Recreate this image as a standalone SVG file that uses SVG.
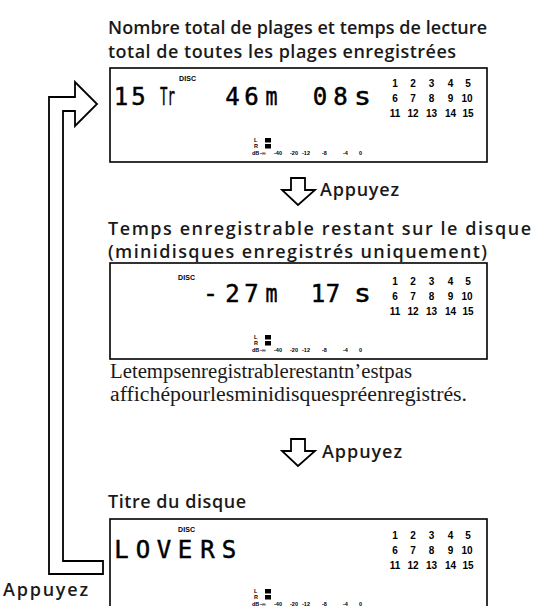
<svg xmlns="http://www.w3.org/2000/svg" width="534" height="606" viewBox="0 0 534 606">
<style>
.ttl{font-family:"Open Sans","Noto Sans","DejaVu Sans",sans-serif;font-weight:600;font-size:18px;fill:#1a1a1a}
.box{fill:#fff;stroke:#000;stroke-width:1.6}
.lcd{font-family:"DejaVu Sans Mono","Liberation Mono",monospace;font-size:24px;fill:#000;stroke:#000;stroke-width:0.5;text-anchor:middle}
.disc{font-family:"Liberation Sans","DejaVu Sans",sans-serif;font-weight:bold;font-size:7px;fill:#000}
.trk{font-family:"Liberation Sans","DejaVu Sans",sans-serif;font-weight:bold;font-size:10px;fill:#000;text-anchor:middle}
.mt{font-family:"Liberation Sans","DejaVu Sans",sans-serif;font-weight:bold;font-size:5.5px;fill:#000}
.note{font-family:"Liberation Serif","DejaVu Serif",serif;font-size:20px;fill:#1a1a1a}
.arr{fill:#fff;stroke:#000;stroke-width:1.8;stroke-linejoin:miter}
</style>
<defs>
<g id="tracks">
<text class="trk" y="0"><tspan x="395">1</tspan><tspan x="413">2</tspan><tspan x="431.5">3</tspan><tspan x="450.5">4</tspan><tspan x="468">5</tspan></text>
<text class="trk" y="15"><tspan x="395">6</tspan><tspan x="413">7</tspan><tspan x="431.5">8</tspan><tspan x="450.5">9</tspan><tspan x="467">10</tspan></text>
<text class="trk" y="30"><tspan x="395">11</tspan><tspan x="413">12</tspan><tspan x="431.5">13</tspan><tspan x="450.5">14</tspan><tspan x="468">15</tspan></text>
</g>
<g id="meter">
<text class="mt" x="254" y="0">L</text>
<text class="mt" x="254" y="6.5">R</text>
<text class="mt" x="252" y="13">dB</text>
<rect x="265" y="-3.5" width="6" height="4.5" fill="#000"/>
<rect x="265" y="2.5" width="6" height="4.5" fill="#000"/>
<text class="mt" y="13"><tspan x="260">-∞</tspan><tspan x="274">-40</tspan><tspan x="290">-20</tspan><tspan x="302">-12</tspan><tspan x="322">-8</tspan><tspan x="343">-4</tspan><tspan x="359">0</tspan></text>
</g>
</defs>

<g id="title1">
<text class="ttl" x="108" y="34" textLength="379">Nombre total de plages et temps de lecture</text>
<text class="ttl" x="108" y="57.5" textLength="348">total de toutes les plages enregistrées</text>
</g>

<g id="display1">
<rect class="box" x="110" y="68" width="377" height="94"/>
<text class="disc" x="179" y="81" textLength="17">DISC</text>
<text class="lcd" x="121 138.5" y="105">15</text>
<text class="lcd" x="167.5" y="105" font-size="17" textLength="15" lengthAdjust="spacingAndGlyphs">Tr</text>
<text class="lcd" x="232.5 251.5" y="105">46</text>
<text class="lcd" x="271.5" y="105" textLength="12" lengthAdjust="spacingAndGlyphs">m</text>
<text class="lcd" x="320 340.5" y="105">08</text>
<text class="lcd" x="362.5" y="105" textLength="17" lengthAdjust="spacingAndGlyphs">s</text>
<use href="#tracks" y="87"/>
<use href="#meter" y="141.5"/>
</g>

<g id="title2">
<text class="ttl" x="108" y="235" textLength="423">Temps enregistrable restant sur le disque</text>
<text class="ttl" x="108" y="258" textLength="379">(minidisques enregistrés uniquement)</text>
</g>

<g id="display2">
<rect class="box" x="110" y="263" width="377" height="96"/>
<text class="disc" x="178" y="280" textLength="17">DISC</text>
<text class="lcd" x="210.5" y="302" textLength="15" lengthAdjust="spacingAndGlyphs">-</text>
<text class="lcd" x="232.5 251.5" y="302">27</text>
<text class="lcd" x="271.5" y="302" textLength="12" lengthAdjust="spacingAndGlyphs">m</text>
<text class="lcd" x="318 333" y="302">17</text>
<text class="lcd" x="362.5" y="302" textLength="17" lengthAdjust="spacingAndGlyphs">s</text>
<use href="#tracks" y="285"/>
<use href="#meter" y="338.5"/>
</g>

<g id="note">
<text class="note" x="110" y="378" textLength="302" lengthAdjust="spacingAndGlyphs">Letempsenregistrablerestantn’estpas</text>
<text class="note" x="110" y="401" textLength="357" lengthAdjust="spacingAndGlyphs">affichépourlesminidisquespréenregistrés.</text>
</g>

<g id="title3">
<text class="ttl" x="108" y="508" textLength="138">Titre du disque</text>
</g>

<g id="display3">
<rect class="box" x="110" y="519" width="377" height="100"/>
<text class="disc" x="178" y="532" textLength="17">DISC</text>
<text class="lcd" x="121.5 143 164 185 207.5 229" y="558">LOVERS</text>
<use href="#tracks" y="539"/>
<use href="#meter" y="592.5"/>
</g>

<g id="connectors">
<polygon class="arr" points="291,178 305,178 305,190 315,190 298,205 282,190 291,190"/>
<text class="ttl" x="320" y="196" textLength="79">Appuyez</text>
<polygon class="arr" points="291,439 305,439 305,451 315,451 298,466 282,451 291,451"/>
<text class="ttl" x="322" y="458" textLength="80">Appuyez</text>
<polygon class="arr" points="49,574 49,97 75,97 75,82 97,104 75,126 75,111 63,111 63,561 103,561 103,574" stroke-width="2"/>
<text class="ttl" x="3" y="596" textLength="85">Appuyez</text>
</g>
</svg>
